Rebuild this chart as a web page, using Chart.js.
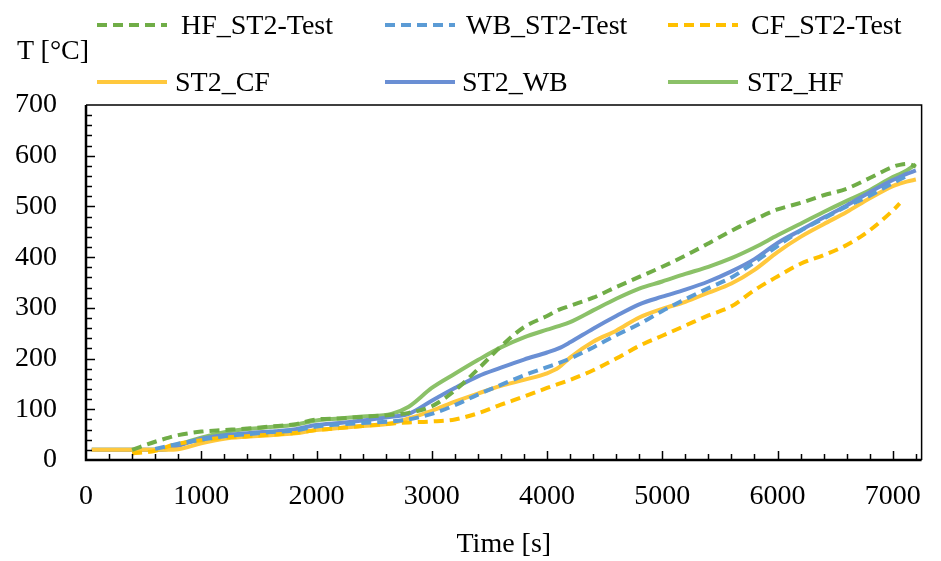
<!DOCTYPE html>
<html><head><meta charset="utf-8">
<script src="https://cdn.jsdelivr.net/npm/chart.js@4.4.0/dist/chart.umd.min.js"></script>
<style>
html,body{margin:0;padding:0;background:#fff;}
#wrap{position:relative;width:941px;height:561px;overflow:hidden;}
canvas{display:block;}
.lgt{position:absolute;font-family:"Liberation Serif","Times New Roman",serif;font-size:28px;line-height:28px;color:#000;white-space:nowrap;}
.lgl{position:absolute;}
</style></head><body>
<div id="wrap"><canvas id="c" width="941" height="561"></canvas></div>
<script>
// ---- data ----
const time   = [50,400,600,700,800,1000,1200,1400,1600,1800,2000,2200,2400,2650,2800,3000,3200,3400,3600,3800,4000,4100,4200,4400,4600,4800,5000,5200,5400,5600,5800,6000,6200,6400,6600,6800,7000,7060,7120,7200];
const hfTest = [null,20,36,43,49,56,59,62,66,70,80,82,85,89,93,106,137,179,224,262,284,296,304,320,341,361,381,403,427,452,474,494,507,522,535,556,578,582,584,579];
const wbTest = [null,null,22,27,32,40,47,51,55,58,66,70,73,76,80,91,108,129,148,167,183,191,200,222,246,268,294,317,339,360,390,422,452,476,500,521,546,553,560,null];
const cfTest = [null,13,18,26,32,39,44,47,50,53,59,63,67,72,74,76,80,92,109,125,142,150,158,177,200,225,245,265,285,303,335,362,387,404,424,453,492,506,null,null];
const st2CF  = [20,20,20,20,21,33,42,46,49,52,59,63,67,72,82,97,115,131,146,158,171,182,202,233,255,281,298,312,330,348,375,410,440,465,489,516,540,545,549,553];
const st2WB  = [20,20,20,21,28,42,49,53,56,60,69,73,78,85,91,117,142,165,182,198,212,220,232,259,284,307,322,336,352,372,396,428,453,478,502,528,552,558,564,571];
const st2HF  = [20,20,20,21,30,44,55,61,65,69,78,82,86,91,105,142,170,197,222,242,257,264,272,295,318,338,352,367,381,398,419,443,466,489,511,532,558,564,571,583];
const seriesLabels = ['HF_ST2-Test','WB_ST2-Test','CF_ST2-Test','ST2_CF','ST2_WB','ST2_HF'];
const xTickValues = [0,1000,2000,3000,4000,5000,6000,7000];
const yTickValues = [0,100,200,300,400,500,600,700];
const xTitle = 'Time [s]';
const yTitle = 'T [°C]';

// ---- styles ----
const seriesValues = [hfTest, wbTest, cfTest, st2CF, st2WB, st2HF];
const seriesColors = ['#70AD47','#5B9BD5','#FFC000','#FFC83D','#6A8FD4','#8BC168'];
const seriesDashed = [true,true,true,false,false,false];
const DASH = [10,6];
const fontFam = '"Liberation Serif","Times New Roman",serif';
const font = {family: fontFam, size: 28};

const datasets = seriesLabels.map((lab,k)=>({
  label: lab,
  data: time.map((t,i)=>({x:t, y: seriesValues[k][i]})),
  borderColor: seriesColors[k],
  backgroundColor: seriesColors[k],
  borderWidth: 4,
  borderDash: seriesDashed[k] ? DASH : [],
  borderCapStyle: 'butt',
  pointRadius: 0,
  fill: false,
  spanGaps: false,
  cubicInterpolationMode: 'monotone'
}));

const frame = {
  id: 'frame',
  afterDraw(chart){
    const {ctx, chartArea:a, scales:{x, y}} = chart;
    ctx.save();
    ctx.strokeStyle = '#000';
    // minor/major ticks inside
    ctx.lineWidth = 1.5;
    for (let v = 200; v <= x.max; v += 200){
      const px = Math.round(x.getPixelForValue(v)) + 0.5;
      const len = (v % 1000 === 0) ? 9 : 6;
      ctx.beginPath(); ctx.moveTo(px, a.bottom); ctx.lineTo(px, a.bottom - len); ctx.stroke();
    }
    for (let v = 20; v < y.max; v += 20){
      const py = Math.round(y.getPixelForValue(v)) + 0.5;
      const len = (v % 100 === 0) ? 9 : 6;
      ctx.beginPath(); ctx.moveTo(a.left, py); ctx.lineTo(a.left + len, py); ctx.stroke();
    }
    // frame
    ctx.lineWidth = 1.5;
    ctx.beginPath();
    ctx.moveTo(a.left, a.top); ctx.lineTo(a.right, a.top); ctx.lineTo(a.right, a.bottom);
    ctx.stroke();
    ctx.lineWidth = 2.5;
    ctx.beginPath();
    ctx.moveTo(a.left, a.top); ctx.lineTo(a.left, a.bottom); ctx.lineTo(a.right, a.bottom);
    ctx.stroke();
    ctx.restore();
  }
};

const chart = new Chart(document.getElementById('c'), {
  type: 'line',
  data: {datasets},
  options: {
    responsive: false,
    animation: false,
    devicePixelRatio: 1,
    layout: {padding: {left: 0, right: 6, top: 105, bottom: 0}},
    plugins: {legend: {display: false}, tooltip: {enabled: false}},
    scales: {
      x: {
        type: 'linear', min: 0, max: 7250,
        afterFit(s){ s.height = 101; },
        afterBuildTicks(s){ s.ticks = xTickValues.map(v=>({value:v})); },
        ticks: {font, color: '#000', padding: 20, maxRotation: 0, autoSkip: false, callback: v => String(v)},
        grid: {display: false, drawTicks: false},
        border: {display: false},
        title: {display: true, text: xTitle, font, color: '#000', padding: 0}
      },
      y: {
        type: 'linear', min: 0, max: 700,
        afterFit(s){ s.width = 86; },
        afterBuildTicks(s){ s.ticks = yTickValues.map(v=>({value:v})); },
        ticks: {font, color: '#000', padding: 29, callback: v => String(v)},
        grid: {display: false, drawTicks: false},
        border: {display: false}
      }
    }
  },
  plugins: [frame]
});

// ---- HTML legend (order & placement as in the reference) ----
const wrap = document.getElementById('wrap');
const legendPlace = [
  {line: 97, text: 181, y: 25}, {line: 385, text: 466, y: 25}, {line: 668, text: 751, y: 25},
  {line: 97, text: 175, y: 82}, {line: 385, text: 462, y: 82}, {line: 668, text: 747, y: 82}
];
const svgNS = 'http://www.w3.org/2000/svg';
seriesLabels.forEach((lab,k)=>{
  const p = legendPlace[k];
  const svg = document.createElementNS(svgNS,'svg');
  svg.setAttribute('width','72'); svg.setAttribute('height','10');
  svg.setAttribute('class','lgl');
  svg.style.left = p.line + 'px'; svg.style.top = (p.y - 5) + 'px';
  const ln = document.createElementNS(svgNS,'line');
  ln.setAttribute('x1','0'); ln.setAttribute('x2','70'); ln.setAttribute('y1','5'); ln.setAttribute('y2','5');
  ln.setAttribute('stroke', seriesColors[k]); ln.setAttribute('stroke-width','4');
  if (seriesDashed[k]) ln.setAttribute('stroke-dasharray', DASH.join(' '));
  svg.appendChild(ln);
  wrap.appendChild(svg);
  const d = document.createElement('div');
  d.className = 'lgt'; d.textContent = lab;
  d.style.left = p.text + 'px'; d.style.top = (p.y - 14) + 'px';
  wrap.appendChild(d);
});
const yt = document.createElement('div');
yt.className = 'lgt'; yt.textContent = yTitle;
yt.style.left = '17px'; yt.style.top = (50 - 14) + 'px';
wrap.appendChild(yt);
</script>
</body></html>
